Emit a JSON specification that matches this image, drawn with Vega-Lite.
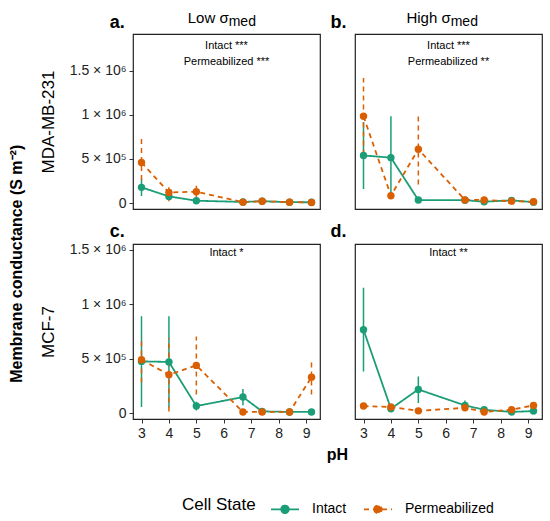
{
  "$schema": "https://vega.github.io/schema/vega-lite/v6.json",
  "padding": {"left": 8, "top": 10, "right": 2, "bottom": 5},
  "datasets": {
    "pts": [
      {"panel": "a", "state": "Intact", "pH": 3, "G": 178000, "lo": 80000, "hi": 276000},
      {"panel": "a", "state": "Intact", "pH": 4, "G": 75000, "lo": 45000, "hi": 105000},
      {"panel": "a", "state": "Intact", "pH": 5, "G": 26000, "lo": 16000, "hi": 36000},
      {"panel": "a", "state": "Intact", "pH": 6.7, "G": 12000, "lo": 6000, "hi": 18000},
      {"panel": "a", "state": "Intact", "pH": 7.4, "G": 20000, "lo": 12000, "hi": 28000},
      {"panel": "a", "state": "Intact", "pH": 8.4, "G": 10000, "lo": 5000, "hi": 15000},
      {"panel": "a", "state": "Intact", "pH": 9.2, "G": 8000, "lo": 4000, "hi": 12000},
      {"panel": "a", "state": "Permeabilized", "pH": 3, "G": 460000, "lo": 160000, "hi": 760000},
      {"panel": "a", "state": "Permeabilized", "pH": 4, "G": 120000, "lo": 20000, "hi": 225000},
      {"panel": "a", "state": "Permeabilized", "pH": 5, "G": 128000, "lo": 60000, "hi": 195000},
      {"panel": "a", "state": "Permeabilized", "pH": 6.7, "G": 10000, "lo": 3000, "hi": 17000},
      {"panel": "a", "state": "Permeabilized", "pH": 7.4, "G": 20000, "lo": 12000, "hi": 28000},
      {"panel": "a", "state": "Permeabilized", "pH": 8.4, "G": 10000, "lo": 5000, "hi": 15000},
      {"panel": "a", "state": "Permeabilized", "pH": 9.2, "G": 6000, "lo": 2000, "hi": 10000},
      {"panel": "b", "state": "Intact", "pH": 3, "G": 540000, "lo": 160000, "hi": 920000},
      {"panel": "b", "state": "Intact", "pH": 4, "G": 515000, "lo": 45000, "hi": 985000},
      {"panel": "b", "state": "Intact", "pH": 5, "G": 34000, "lo": 24000, "hi": 44000},
      {"panel": "b", "state": "Intact", "pH": 6.7, "G": 32000, "lo": 22000, "hi": 42000},
      {"panel": "b", "state": "Intact", "pH": 7.4, "G": 15000, "lo": 8000, "hi": 22000},
      {"panel": "b", "state": "Intact", "pH": 8.4, "G": 30000, "lo": 20000, "hi": 40000},
      {"panel": "b", "state": "Intact", "pH": 9.2, "G": 10000, "lo": 5000, "hi": 15000},
      {"panel": "b", "state": "Permeabilized", "pH": 3, "G": 985000, "lo": 550000, "hi": 1420000},
      {"panel": "b", "state": "Permeabilized", "pH": 4, "G": 83000, "lo": 60000, "hi": 106000},
      {"panel": "b", "state": "Permeabilized", "pH": 5, "G": 610000, "lo": 210000, "hi": 1010000},
      {"panel": "b", "state": "Permeabilized", "pH": 6.7, "G": 35000, "lo": 25000, "hi": 45000},
      {"panel": "b", "state": "Permeabilized", "pH": 7.4, "G": 35000, "lo": 25000, "hi": 45000},
      {"panel": "b", "state": "Permeabilized", "pH": 8.4, "G": 20000, "lo": 12000, "hi": 28000},
      {"panel": "b", "state": "Permeabilized", "pH": 9.2, "G": 15000, "lo": 8000, "hi": 22000},
      {"panel": "c", "state": "Intact", "pH": 3, "G": 475000, "lo": 55000, "hi": 890000},
      {"panel": "c", "state": "Intact", "pH": 4, "G": 470000, "lo": 50000, "hi": 890000},
      {"panel": "c", "state": "Intact", "pH": 5, "G": 64000, "lo": 24000, "hi": 104000},
      {"panel": "c", "state": "Intact", "pH": 6.7, "G": 147000, "lo": 72000, "hi": 222000},
      {"panel": "c", "state": "Intact", "pH": 7.4, "G": 15000, "lo": 5000, "hi": 25000},
      {"panel": "c", "state": "Intact", "pH": 8.4, "G": 10000, "lo": 5000, "hi": 15000},
      {"panel": "c", "state": "Intact", "pH": 9.2, "G": 10000, "lo": 5000, "hi": 15000},
      {"panel": "c", "state": "Permeabilized", "pH": 3, "G": 490000, "lo": 280000, "hi": 700000},
      {"panel": "c", "state": "Permeabilized", "pH": 4, "G": 352000, "lo": 15000, "hi": 690000},
      {"panel": "c", "state": "Permeabilized", "pH": 5, "G": 438000, "lo": 170000, "hi": 705000},
      {"panel": "c", "state": "Permeabilized", "pH": 6.7, "G": 10000, "lo": 4000, "hi": 16000},
      {"panel": "c", "state": "Permeabilized", "pH": 7.4, "G": 10000, "lo": 4000, "hi": 16000},
      {"panel": "c", "state": "Permeabilized", "pH": 8.4, "G": 10000, "lo": 4000, "hi": 16000},
      {"panel": "c", "state": "Permeabilized", "pH": 9.2, "G": 330000, "lo": 170000, "hi": 490000},
      {"panel": "d", "state": "Intact", "pH": 3, "G": 766000, "lo": 383000, "hi": 1153000},
      {"panel": "d", "state": "Intact", "pH": 4, "G": 40000, "lo": 25000, "hi": 55000},
      {"panel": "d", "state": "Intact", "pH": 5, "G": 217000, "lo": 92000, "hi": 337000},
      {"panel": "d", "state": "Intact", "pH": 6.7, "G": 70000, "lo": 28000, "hi": 116000},
      {"panel": "d", "state": "Intact", "pH": 7.4, "G": 30000, "lo": 18000, "hi": 42000},
      {"panel": "d", "state": "Intact", "pH": 8.4, "G": 10000, "lo": 4000, "hi": 16000},
      {"panel": "d", "state": "Intact", "pH": 9.2, "G": 18000, "lo": 8000, "hi": 28000},
      {"panel": "d", "state": "Permeabilized", "pH": 3, "G": 64000, "lo": 50000, "hi": 78000},
      {"panel": "d", "state": "Permeabilized", "pH": 4, "G": 55000, "lo": 40000, "hi": 70000},
      {"panel": "d", "state": "Permeabilized", "pH": 5, "G": 20000, "lo": 10000, "hi": 30000},
      {"panel": "d", "state": "Permeabilized", "pH": 6.7, "G": 48000, "lo": 33000, "hi": 63000},
      {"panel": "d", "state": "Permeabilized", "pH": 7.4, "G": 10000, "lo": 4000, "hi": 16000},
      {"panel": "d", "state": "Permeabilized", "pH": 8.4, "G": 30000, "lo": 20000, "hi": 40000},
      {"panel": "d", "state": "Permeabilized", "pH": 9.2, "G": 70000, "lo": 55000, "hi": 85000}
    ]
  },
  "data": {"name": "pts"},
  "title": {"text": "Membrane conductance (S m⁻²)", "orient": "left", "anchor": "middle", "fontSize": 16, "fontWeight": "bold", "offset": 14},
  "columns": 2,
  "spacing": {"row": 35, "column": 35},
  "bounds": "flush",
  "concat": [
    {
      "width": 187, "height": 175,
      "transform": [{"filter": "datum.panel == 'a'"}],
      "encoding": {
        "x": {"field": "pH", "type": "quantitative", "scale": {"domain": [2.69, 9.51], "nice": false, "zero": false}, "axis": null},
        "y": {"field": "G", "type": "quantitative", "scale": {"domain": [-68000, 1919000], "nice": false, "zero": false},
              "axis": {"title": "MDA-MB-231", "values": [0, 500000, 1000000, 1500000], "labelExpr": "datum.value == 0 ? '0' : datum.value == 500000 ? '5 × 10⁵' : datum.value == 1000000 ? '1 × 10⁶' : '1.5 × 10⁶'"}}
      },
      "layer": [
        {"mark": {"type": "rule", "strokeWidth": 1.5}, "encoding": {"y": {"field": "lo", "type": "quantitative"}, "y2": {"field": "hi"}, "color": {"field": "state", "type": "nominal", "title": "Cell State", "scale": {"domain": ["Intact", "Permeabilized"], "range": ["#1b9e77", "#d95f02"]}}, "strokeDash": {"field": "state", "type": "nominal", "title": "Cell State", "scale": {"domain": ["Intact", "Permeabilized"], "range": [[1, 0], [5, 4]]}}}},
        {"mark": {"type": "line", "strokeWidth": 1.8}, "encoding": {"color": {"field": "state", "type": "nominal", "title": "Cell State"}, "strokeDash": {"field": "state", "type": "nominal", "title": "Cell State"}}},
        {"mark": {"type": "circle", "size": 55, "opacity": 1}, "encoding": {"color": {"field": "state", "type": "nominal", "title": "Cell State"}}},
        {"transform": [{"filter": "datum.pH == 3 && datum.state == 'Intact'"}], "mark": {"type": "text", "text": "Low σ", "align": "right", "baseline": "alphabetic", "fontSize": 15, "color": "black"}, "encoding": {"x": {"datum": 6.18}, "y": {"datum": 2043000}}},
        {"transform": [{"filter": "datum.pH == 3 && datum.state == 'Intact'"}], "mark": {"type": "text", "text": "med", "align": "left", "baseline": "alphabetic", "fontSize": 14, "color": "black"}, "encoding": {"x": {"datum": 6.18}, "y": {"datum": 2009000}}},
        {"transform": [{"filter": "datum.pH == 3 && datum.state == 'Intact'"}], "mark": {"type": "text", "text": "a.", "align": "left", "baseline": "alphabetic", "fontSize": 18, "fontWeight": "bold", "color": "black"}, "encoding": {"x": {"datum": 1.84}, "y": {"datum": 1986000}}},
        {"transform": [{"filter": "datum.pH == 3 && datum.state == 'Intact'"}], "mark": {"type": "text", "text": "Intact ***", "baseline": "alphabetic", "fontSize": 11, "color": "black"}, "encoding": {"x": {"datum": 6.1}, "y": {"datum": 1745000}}},
        {"transform": [{"filter": "datum.pH == 3 && datum.state == 'Intact'"}], "mark": {"type": "text", "text": "Permeabilized ***", "baseline": "alphabetic", "fontSize": 11, "color": "black"}, "encoding": {"x": {"datum": 6.1}, "y": {"datum": 1569000}}}
      ]
    },
    {
      "width": 187, "height": 175,
      "transform": [{"filter": "datum.panel == 'b'"}],
      "encoding": {
        "x": {"field": "pH", "type": "quantitative", "scale": {"domain": [2.69, 9.51], "nice": false, "zero": false}, "axis": null},
        "y": {"field": "G", "type": "quantitative", "scale": {"domain": [-68000, 1919000], "nice": false, "zero": false}, "axis": null}
      },
      "layer": [
        {"mark": {"type": "rule", "strokeWidth": 1.5}, "encoding": {"y": {"field": "lo", "type": "quantitative"}, "y2": {"field": "hi"}, "color": {"field": "state", "type": "nominal", "title": "Cell State"}, "strokeDash": {"field": "state", "type": "nominal", "title": "Cell State"}}},
        {"mark": {"type": "line", "strokeWidth": 1.8}, "encoding": {"color": {"field": "state", "type": "nominal", "title": "Cell State"}, "strokeDash": {"field": "state", "type": "nominal", "title": "Cell State"}}},
        {"mark": {"type": "circle", "size": 55, "opacity": 1}, "encoding": {"color": {"field": "state", "type": "nominal", "title": "Cell State"}}},
        {"transform": [{"filter": "datum.pH == 3 && datum.state == 'Intact'"}], "mark": {"type": "text", "text": "High σ", "align": "right", "baseline": "alphabetic", "fontSize": 15, "color": "black"}, "encoding": {"x": {"datum": 6.18}, "y": {"datum": 2043000}}},
        {"transform": [{"filter": "datum.pH == 3 && datum.state == 'Intact'"}], "mark": {"type": "text", "text": "med", "align": "left", "baseline": "alphabetic", "fontSize": 14, "color": "black"}, "encoding": {"x": {"datum": 6.18}, "y": {"datum": 2009000}}},
        {"transform": [{"filter": "datum.pH == 3 && datum.state == 'Intact'"}], "mark": {"type": "text", "text": "b.", "align": "left", "baseline": "alphabetic", "fontSize": 18, "fontWeight": "bold", "color": "black"}, "encoding": {"x": {"datum": 1.8}, "y": {"datum": 1986000}}},
        {"transform": [{"filter": "datum.pH == 3 && datum.state == 'Intact'"}], "mark": {"type": "text", "text": "Intact ***", "baseline": "alphabetic", "fontSize": 11, "color": "black"}, "encoding": {"x": {"datum": 6.1}, "y": {"datum": 1745000}}},
        {"transform": [{"filter": "datum.pH == 3 && datum.state == 'Intact'"}], "mark": {"type": "text", "text": "Permeabilized **", "baseline": "alphabetic", "fontSize": 11, "color": "black"}, "encoding": {"x": {"datum": 6.1}, "y": {"datum": 1569000}}}
      ]
    },
    {
      "width": 187, "height": 175,
      "transform": [{"filter": "datum.panel == 'c'"}],
      "encoding": {
        "x": {"field": "pH", "type": "quantitative", "scale": {"domain": [2.69, 9.51], "nice": false, "zero": false},
              "axis": {"values": [3, 4, 5, 6, 7, 8, 9], "title": "pH", "titleX": 204, "titleY": 27}},
        "y": {"field": "G", "type": "quantitative", "scale": {"domain": [-55000, 1555000], "nice": false, "zero": false},
              "axis": {"title": "MCF-7", "values": [0, 500000, 1000000, 1500000], "labelExpr": "datum.value == 0 ? '0' : datum.value == 500000 ? '5 × 10⁵' : datum.value == 1000000 ? '1 × 10⁶' : '1.5 × 10⁶'"}}
      },
      "layer": [
        {"mark": {"type": "rule", "strokeWidth": 1.5}, "encoding": {"y": {"field": "lo", "type": "quantitative"}, "y2": {"field": "hi"}, "color": {"field": "state", "type": "nominal", "title": "Cell State"}, "strokeDash": {"field": "state", "type": "nominal", "title": "Cell State"}}},
        {"mark": {"type": "line", "strokeWidth": 1.8}, "encoding": {"color": {"field": "state", "type": "nominal", "title": "Cell State"}, "strokeDash": {"field": "state", "type": "nominal", "title": "Cell State"}}},
        {"mark": {"type": "circle", "size": 55, "opacity": 1}, "encoding": {"color": {"field": "state", "type": "nominal", "title": "Cell State"}}},
        {"transform": [{"filter": "datum.pH == 3 && datum.state == 'Intact'"}], "mark": {"type": "text", "text": "c.", "align": "left", "baseline": "alphabetic", "fontSize": 18, "fontWeight": "bold", "color": "black"}, "encoding": {"x": {"datum": 1.84}, "y": {"datum": 1620000}}},
        {"transform": [{"filter": "datum.pH == 3 && datum.state == 'Intact'"}], "mark": {"type": "text", "text": "Intact *", "baseline": "alphabetic", "fontSize": 11, "color": "black"}, "encoding": {"x": {"datum": 6.1}, "y": {"datum": 1446000}}}
      ]
    },
    {
      "width": 187, "height": 175,
      "transform": [{"filter": "datum.panel == 'd'"}],
      "encoding": {
        "x": {"field": "pH", "type": "quantitative", "scale": {"domain": [2.69, 9.51], "nice": false, "zero": false},
              "axis": {"values": [3, 4, 5, 6, 7, 8, 9], "title": null}},
        "y": {"field": "G", "type": "quantitative", "scale": {"domain": [-55000, 1555000], "nice": false, "zero": false}, "axis": null}
      },
      "layer": [
        {"mark": {"type": "rule", "strokeWidth": 1.5}, "encoding": {"y": {"field": "lo", "type": "quantitative"}, "y2": {"field": "hi"}, "color": {"field": "state", "type": "nominal", "title": "Cell State"}, "strokeDash": {"field": "state", "type": "nominal", "title": "Cell State"}}},
        {"mark": {"type": "line", "strokeWidth": 1.8}, "encoding": {"color": {"field": "state", "type": "nominal", "title": "Cell State"}, "strokeDash": {"field": "state", "type": "nominal", "title": "Cell State"}}},
        {"mark": {"type": "circle", "size": 55, "opacity": 1}, "encoding": {"color": {"field": "state", "type": "nominal", "title": "Cell State"}}},
        {"transform": [{"filter": "datum.pH == 3 && datum.state == 'Intact'"}], "mark": {"type": "text", "text": "d.", "align": "left", "baseline": "alphabetic", "fontSize": 18, "fontWeight": "bold", "color": "black"}, "encoding": {"x": {"datum": 1.8}, "y": {"datum": 1620000}}},
        {"transform": [{"filter": "datum.pH == 3 && datum.state == 'Intact'"}], "mark": {"type": "text", "text": "Intact **", "baseline": "alphabetic", "fontSize": 11, "color": "black"}, "encoding": {"x": {"datum": 6.1}, "y": {"datum": 1446000}}}
      ]
    }
  ],
  "resolve": {"scale": {"y": "independent", "x": "independent"}},
  "config": {
    "font": "Liberation Sans",
    "view": {"stroke": "#222222", "strokeWidth": 1.2},
    "axis": {"domain": false, "grid": false, "ticks": true, "tickColor": "#333333", "tickSize": 4, "labelColor": "#222222", "labelFontSize": 14, "labelPadding": 3, "titleFontWeight": "normal", "titleColor": "#000000"},
    "axisY": {"titleFontSize": 17, "titlePadding": 12, "labelFontSize": 14},
    "axisX": {"titleFontSize": 16, "titleFontWeight": "bold"},
    "legend": {"orient": "none", "legendX": 49, "legendY": 460, "direction": "horizontal", "titleOrient": "left", "titlePadding": 14, "titleFontSize": 17, "titleFontWeight": "normal", "titleColor": "#000000", "labelFontSize": 14, "labelColor": "#000000", "symbolType": "M-1,0H1M-0.27,0A0.27,0.27 0 1,0 0.27,0A0.27,0.27 0 1,0 -0.27,0", "symbolSize": 784, "symbolStrokeWidth": 1.8, "columnPadding": 13, "labelOffset": 12}
  }
}
